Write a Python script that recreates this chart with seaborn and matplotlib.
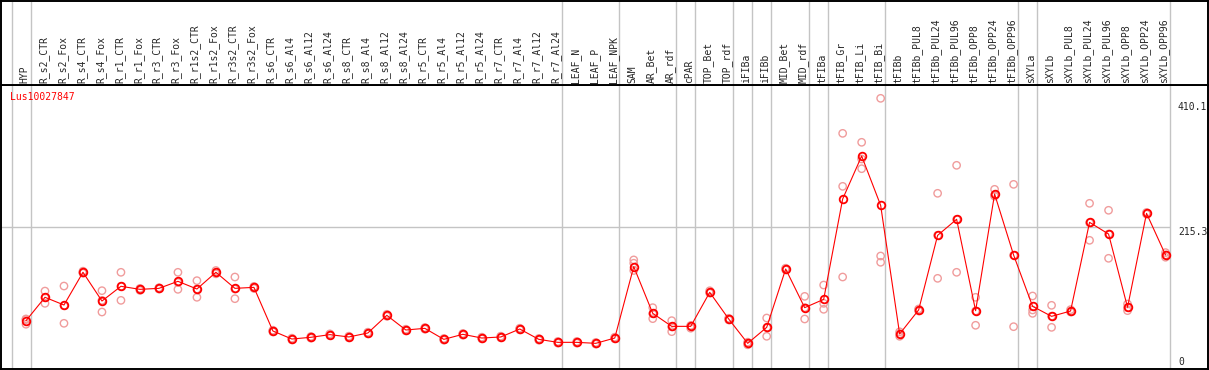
import matplotlib
matplotlib.use('Agg')
import pandas as pd
import matplotlib.pyplot as plt
import seaborn as sns

# expression profile of one gene across tissues, mean + replicates

gene = 'Lus10027847'

samples = ['HYP', 'R_s2_CTR', 'R_s2_Fox', 'R_s4_CTR', 'R_s4_Fox', 'R_r1_CTR', 'R_r1_Fox',
           'R_r3_CTR', 'R_r3_Fox', 'R_r1s2_CTR', 'R_r1s2_Fox', 'R_r3s2_CTR', 'R_r3s2_Fox',
           'R_s6_CTR', 'R_s6_Al4', 'R_s6_Al12', 'R_s6_Al24', 'R_s8_CTR', 'R_s8_Al4',
           'R_s8_Al12', 'R_s8_Al24', 'R_r5_CTR', 'R_r5_Al4', 'R_r5_Al12', 'R_r5_Al24',
           'R_r7_CTR', 'R_r7_Al4', 'R_r7_Al12', 'R_r7_Al24', 'LEAF_N', 'LEAF_P', 'LEAF_NPK',
           'SAM', 'AR_Bet', 'AR_rdf', 'cPAR', 'TOP_Bet', 'TOP_rdf', 'iFIBa', 'iFIBb',
           'MID_Bet', 'MID_rdf', 'tFIBa', 'tFIB_Gr', 'tFIB_Li', 'tFIB_Bi', 'tFIBb',
           'tFIBb_PUL8', 'tFIBb_PUL24', 'tFIBb_PUL96', 'tFIBb_OPP8', 'tFIBb_OPP24',
           'tFIBb_OPP96', 'sXYLa', 'sXYLb', 'sXYLb_PUL8', 'sXYLb_PUL24', 'sXYLb_PUL96',
           'sXYLb_OPP8', 'sXYLb_OPP24', 'sXYLb_OPP96']

means = [74.3, 109.6, 98.0, 147.3, 104.0, 126.2, 121.6, 123.1, 133.7, 122.1, 147.3, 123.1, 124.6,
         58.8, 46.7, 49.3, 53.3, 49.8, 55.8, 82.4, 60.3, 62.8, 46.2, 53.8, 48.2,
         49.8, 61.8, 46.2, 41.7, 41.7, 40.2, 48.2,
         155.8, 85.4, 65.8, 65.8, 117.1, 76.9, 40.2, 64.3, 152.3, 94.0, 106.5,
         257.8, 322.6, 248.3, 54.3, 90.5, 203.0, 227.2, 89.4, 265.3, 173.4,
         96.0, 80.9, 88.9, 222.6, 205.0, 94.5, 236.2, 173.4]

rep_a = [77.0, 119.0, 126.6, 149.0, 119.6, 147.3, 123.0, 124.0, 147.3, 134.7, 150.0, 140.2, 126.0,
         60.0, 48.0, 50.5, 54.5, 51.0, 57.0, 84.0, 61.5, 64.0, 47.5, 55.0, 49.5,
         51.0, 63.0, 47.5, 43.0, 43.0, 41.5, 49.5,
         166.0, 94.0, 74.4, 67.0, 119.5, 78.0, 42.0, 78.4, 153.5, 111.0, 128.1,
         356.8, 343.3, 409.6, 57.6, 92.0, 266.4, 308.6, 109.6, 272.4, 279.9,
         111.6, 97.5, 91.0, 251.3, 240.8, 99.5, 237.5, 177.0]

rep_b = [69.0, 100.5, 70.4, 146.0, 87.4, 105.0, 120.0, 122.0, 121.6, 109.6, 145.0, 107.5, 123.0,
         57.5, 45.5, 48.0, 52.0, 48.5, 54.5, 81.0, 59.0, 61.5, 45.0, 52.5, 47.0,
         48.5, 60.5, 45.0, 40.5, 40.5, 39.0, 47.0,
         150.0, 77.4, 57.8, 63.0, 116.0, 75.5, 38.0, 50.8, 151.0, 76.9, 100.5,
         276.9, 318.1, 171.9, 50.8, 89.0, 203.0, 227.0, 67.4, 262.0, 65.3,
         85.4, 64.3, 87.5, 195.5, 168.4, 89.5, 235.0, 170.0]

rep_c = [76.0, 109.0, 97.0, 147.0, 105.0, 126.0, 122.0, 123.5, 132.0, 122.0, 147.0, 122.0, 125.0,
         59.0, 46.5, 49.5, 53.5, 50.0, 56.0, 82.0, 60.5, 63.0, 46.0, 54.0, 48.0,
         50.0, 62.0, 46.0, 41.5, 41.5, 40.0, 48.0,
         161.0, 85.0, 65.0, 66.5, 117.0, 77.0, 40.5, 64.0, 152.5, 94.0, 91.5,
         140.2, 303.5, 162.4, 54.5, 90.5, 138.2, 147.3, 89.0, 264.0, 173.0,
         90.5, 81.0, 88.5, 222.0, 205.0, 94.0, 236.0, 173.5]

# a grey separator sits right after each of these samples (and one before the first)
group_ends = ['HYP', 'R_r7_Al24', 'LEAF_NPK', 'AR_rdf', 'cPAR', 'TOP_rdf', 'iFIBa', 'iFIBb',
              'MID_rdf', 'tFIBa', 'tFIB_Bi', 'tFIBb_OPP96', 'sXYLa', 'sXYLb_OPP96']

ref_line = 215.3
tick_values = [410.1, 215.3, 0]
tick_labels = ['410.1', '215.3', '0']

pos = list(range(len(samples)))
reps = pd.DataFrame({
    'pos': pos * 3,
    'value': rep_a + rep_b + rep_c,
})

sns.set_style('white')
plt.rcParams['font.family'] = ['DejaVu Sans Mono', 'DejaVu Sans']

W, H = 1209, 370
fig = plt.figure(figsize=(W / 100, H / 100), dpi=100)
ax = fig.add_axes([1 / W, 1 / H, 1206.5 / W, 284 / H])
hax = fig.add_axes([1 / W, 285 / H, 1206.5 / W, 84.5 / H])

xlim = (-1.316, 62.21)
for a in (ax, hax):
    a.set_xlim(*xlim)
    a.set_xticks([])
    a.set_yticks([])
    for s in a.spines.values():
        s.set_color('black')
        s.set_linewidth(1.4)
ax.set_ylim(1.5, 429.7)
hax.set_ylim(0, 84.5)

# separators
seps = [-1] + [samples.index(n) for n in group_ends]
for a in (ax, hax):
    for g in seps:
        a.axvline(g + 0.24, color='#c4c4c4', lw=1.0, zorder=0)
ax.hlines(ref_line, xlim[0], seps[-1] + 0.24, color='#c4c4c4', lw=1.0, zorder=0)

# replicates
sns.scatterplot(data=reps, x='pos', y='value', ax=ax, marker='o', s=28,
                facecolors='none', edgecolor='#f09c9c', linewidth=1.0, zorder=2,
                legend=False)

# means
sns.lineplot(x=pos, y=means, ax=ax, color='red', lw=0.8, marker='o', markersize=5.5,
             markerfacecolor='none', markeredgecolor='red', markeredgewidth=1.3,
             zorder=3)
ax.set_xlabel('')
ax.set_ylabel('')

# sample names in the header
for i, name in enumerate(samples):
    hax.text(i - 0.08, 2, name, rotation=90, ha='center', va='bottom', fontsize=7)

ax.annotate(gene, xy=(0, 1), xycoords='axes fraction', xytext=(6.5, -8.6),
            textcoords='offset points', ha='left', va='center', color='red', fontsize=7)

# value labels, drawn inside on the right
offsets = [-6.5, -3.2, 6.0]
for v, lab, off in zip(tick_values, tick_labels, offsets):
    ax.annotate(lab, xy=(0.9755, v), xycoords=('axes fraction', 'data'),
                xytext=(0, off), textcoords='offset points',
                ha='left', va='center', fontsize=7)

fig.savefig('out.png', dpi=100)
